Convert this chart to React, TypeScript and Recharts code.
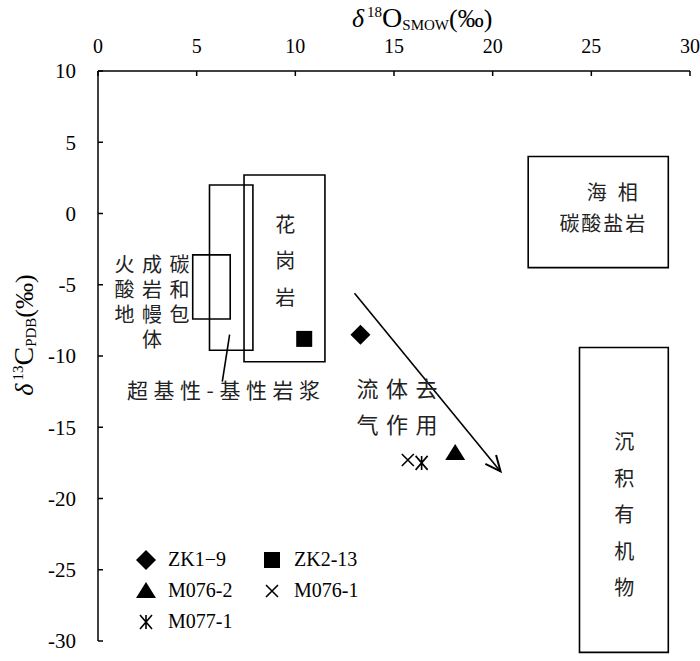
import React from 'react'
import {
  ScatterChart,
  Scatter,
  XAxis,
  YAxis,
  ReferenceArea,
  ReferenceLine,
  ReferenceDot,
  Legend,
} from 'recharts'

type Pt = { x: number; y: number }

const X_TICKS = [0, 5, 10, 15, 20, 25, 30]
const Y_TICKS = [10, 5, 0, -5, -10, -15, -20, -25, -30]

// samples, δ18O SMOW vs δ13C PDB (‰)
const ZK1_9: Pt[] = [{ x: 13.3, y: -8.5 }]
const ZK2_13: Pt[] = [{ x: 10.45, y: -8.8 }]
const M076_2: Pt[] = [{ x: 18.1, y: -16.8 }]
const M076_1: Pt[] = [{ x: 15.7, y: -17.3 }]
const M077_1: Pt[] = [{ x: 16.4, y: -17.5 }]

// source fields
const FIELDS = [
  { name: 'marine', x1: 21.8, x2: 28.9, y1: -3.8, y2: 4.0 },
  { name: 'organic', x1: 24.4, x2: 28.9, y1: -30.8, y2: -9.4 },
  { name: 'granite', x1: 7.4, x2: 11.5, y1: -10.4, y2: 2.7 },
  { name: 'magma', x1: 5.65, x2: 7.85, y1: -9.6, y2: 2.0 },
  { name: 'carbonatite', x1: 4.8, x2: 6.7, y1: -7.4, y2: -2.9 },
]

const TREND: Pt[] = [{ x: 13.0, y: -5.6 }, { x: 20.4, y: -18.1 }]
const LEADER: Pt[] = [{ x: 6.67, y: -8.5 }, { x: 6.3, y: -11.8 }]

// text notes, anchored at the centre of the first line (or first column)
const NOTES = [
  { x: 26.06, y: 1.6, lines: ['海相'], kind: 'wide' },
  { x: 25.56, y: -0.6, lines: ['碳酸盐岩'], kind: 'plain' },
  { x: 9.49, y: -0.74, lines: ['花岗岩'], kind: 'column' },
  { x: 26.67, y: -16.0, lines: ['沉积有机物'], kind: 'column' },
  { x: 1.34, y: -3.6, lines: ['火酸地', '成岩幔体', '碳和包'], kind: 'block' },
  { x: 6.36, y: -12.3, lines: ['超基性-基性岩浆'], kind: 'magma' },
  { x: 15.15, y: -12.2, lines: ['流体去', '气作用'], kind: 'fluid' },
]

const SERIF = '"Liberation Serif", "Times New Roman", serif'
const CJK = '"Noto Sans CJK SC", sans-serif'

const NOTE_STYLE: Record<string, { size: number; spacing: number; lh: number; vertical?: boolean }> = {
  wide: { size: 20, spacing: 11, lh: 0 },
  plain: { size: 20, spacing: 2, lh: 0 },
  column: { size: 20, spacing: 16.5, lh: 0, vertical: true },
  block: { size: 20, spacing: 5, lh: 27.5, vertical: true },
  magma: { size: 21, spacing: 5.5, lh: 0 },
  fluid: { size: 22, spacing: 7.5, lh: 36 },
}

function Marker({ kind, cx, cy }: { kind: string; cx: number; cy: number }) {
  if (kind === 'diamond')
    return <polygon points={`${cx},${cy - 10} ${cx + 10},${cy} ${cx},${cy + 10} ${cx - 10},${cy}`} fill="#000" />
  if (kind === 'square') return <rect x={cx - 8} y={cy - 8} width={16} height={16} fill="#000" />
  if (kind === 'triangle')
    return <polygon points={`${cx},${cy - 9} ${cx + 10},${cy + 7} ${cx - 10},${cy + 7}`} fill="#000" />
  if (kind === 'x')
    return (
      <path d={`M${cx - 6},${cy - 6}L${cx + 6},${cy + 6}M${cx + 6},${cy - 6}L${cx - 6},${cy + 6}`} stroke="#000" strokeWidth={1.6} />
    )
  return (
    <path
      d={`M${cx},${cy - 7}L${cx},${cy + 7}M${cx - 6},${cy - 7}L${cx + 6},${cy + 7}M${cx + 6},${cy - 7}L${cx - 6},${cy + 7}`}
      stroke="#000"
      strokeWidth={1.6}
    />
  )
}

const SERIES = [
  { name: 'ZK1−9', data: ZK1_9, kind: 'diamond' },
  { name: 'ZK2-13', data: ZK2_13, kind: 'square' },
  { name: 'M076-2', data: M076_2, kind: 'triangle' },
  { name: 'M076-1', data: M076_1, kind: 'x' },
  { name: 'M077-1', data: M077_1, kind: 'asterisk' },
]

function Note({ cx, cy, lines, kind }: { cx: number; cy: number; lines: string[]; kind: string }) {
  const s = NOTE_STYLE[kind]
  if (s.vertical) {
    // one vertical column per entry, columns spaced by lh
    return (
      <g>
        {lines.map((t, i) => (
          <text
            key={i}
            x={cx + i * s.lh}
            y={cy - s.size / 2}
            writingMode="vertical-rl"
            fontFamily={CJK}
            fontSize={s.size}
            letterSpacing={s.spacing}
            fill="#222"
          >
            {t}
          </text>
        ))}
      </g>
    )
  }
  return (
    <text
      textAnchor="middle"
      dominantBaseline="central"
      fontFamily={CJK}
      fontSize={s.size}
      letterSpacing={s.spacing}
      fill="#222"
    >
      {lines.map((t, i) => (
        <tspan key={i} x={cx + s.spacing / 2} y={cy + i * s.lh}>
          {t}
        </tspan>
      ))}
    </text>
  )
}

function TrendArrow(p: any) {
  const { x1, y1, x2, y2 } = p
  const a = Math.atan2(y2 - y1, x2 - x1)
  const len = 17
  const w = 0.42
  const h1 = `${x2 - len * Math.cos(a - w)},${y2 - len * Math.sin(a - w)}`
  const h2 = `${x2 - len * Math.cos(a + w)},${y2 - len * Math.sin(a + w)}`
  return (
    <g>
      <line x1={x1} y1={y1} x2={x2} y2={y2} stroke="#000" strokeWidth={1.6} />
      <polyline points={`${h1} ${x2},${y2} ${h2}`} fill="none" stroke="#000" strokeWidth={2} />
    </g>
  )
}

function XTitle({ viewBox }: any) {
  const x = viewBox.x + 254
  return (
    <text x={x} y={27} fontFamily={SERIF} fontSize={26} fill="#000">
      <tspan fontStyle="italic">δ</tspan>
      <tspan fontSize={15} dy={-10} dx={3}>18</tspan>
      <tspan fontSize={28} dy={10}>O</tspan>
      <tspan fontSize={15} dy={3}>SMOW</tspan>
      <tspan fontSize={26} dy={-3}>(‰)</tspan>
    </text>
  )
}

function YTitle({ viewBox }: any) {
  const cy = viewBox.y + viewBox.height / 2 - 21
  return (
    <text
      transform={`translate(33,${cy}) rotate(-90)`}
      textAnchor="middle"
      fontFamily={SERIF}
      fontSize={26}
      fill="#000"
    >
      <tspan fontStyle="italic">δ</tspan>
      <tspan fontSize={15} dy={-10} dx={3}>13</tspan>
      <tspan fontSize={28} dy={10}>C</tspan>
      <tspan fontSize={15} dy={3}>PDB</tspan>
      <tspan fontSize={26} dy={-3}>(‰)</tspan>
    </text>
  )
}

function LegendBox() {
  return (
    <div
      style={{
        display: 'grid',
        gridTemplateColumns: '126px 126px',
        gridAutoRows: '31px',
        fontFamily: SERIF,
        fontSize: 20,
        color: '#000',
      }}
    >
      {SERIES.map((s) => (
        <div key={s.name} style={{ display: 'flex', alignItems: 'center' }}>
          <svg width={20} height={22} style={{ marginRight: 12 }}>
            <Marker kind={s.kind} cx={10} cy={11} />
          </svg>
          <span>{s.name}</span>
        </div>
      ))}
    </div>
  )
}

export default function App() {
  return (
    <div style={{ position: 'absolute', left: 0, top: 0, background: '#fff' }}>
      <ScatterChart width={700} height={661} margin={{ top: 0, right: 10, bottom: 20, left: 0 }}>
        <XAxis
          type="number"
          dataKey="x"
          orientation="top"
          domain={[0, 30]}
          ticks={X_TICKS}
          interval={0}
          allowDataOverflow
          height={71}
          tickSize={-5}
          tickMargin={23}
          axisLine={{ stroke: '#000', strokeWidth: 1.5 }}
          tickLine={{ stroke: '#000', strokeWidth: 1.5 }}
          tick={{ fill: '#000', fontSize: 20, fontFamily: SERIF }}
          label={{ content: XTitle }}
        />
        <YAxis
          type="number"
          dataKey="y"
          domain={[-30, 10]}
          ticks={Y_TICKS}
          interval={0}
          allowDataOverflow
          width={98}
          tickSize={-5}
          tickMargin={27}
          axisLine={{ stroke: '#000', strokeWidth: 1.5 }}
          tickLine={{ stroke: '#000', strokeWidth: 1.5 }}
          tick={{ fill: '#000', fontSize: 21, fontFamily: SERIF }}
          label={{ content: YTitle }}
        />
        {FIELDS.map((f) => (
          <ReferenceArea
            key={f.name}
            x1={f.x1}
            x2={f.x2}
            y1={f.y1}
            y2={f.y2}
            fill="none"
            stroke="#000"
            strokeWidth={1.6}
            ifOverflow="visible"
          />
        ))}
        <ReferenceLine segment={LEADER} stroke="#000" strokeWidth={1.6} ifOverflow="visible" />
        <ReferenceLine segment={TREND} ifOverflow="visible" shape={TrendArrow} />
        {NOTES.map((n, i) => (
          <ReferenceDot
            key={i}
            x={n.x}
            y={n.y}
            r={0}
            ifOverflow="visible"
            shape={(p: any) => <Note cx={p.cx} cy={p.cy} lines={n.lines} kind={n.kind} />}
          />
        ))}
        {SERIES.map((s) => (
          <Scatter
            key={s.name}
            name={s.name}
            data={s.data}
            isAnimationActive={false}
            shape={(p: any) => <Marker kind={s.kind} cx={p.cx} cy={p.cy} />}
          />
        ))}
        <Legend
          layout="horizontal"
          verticalAlign="middle"
          align="center"
          wrapperStyle={{ left: 136, top: 544, width: 260 }}
          content={() => <LegendBox />}
        />
      </ScatterChart>
    </div>
  )
}
